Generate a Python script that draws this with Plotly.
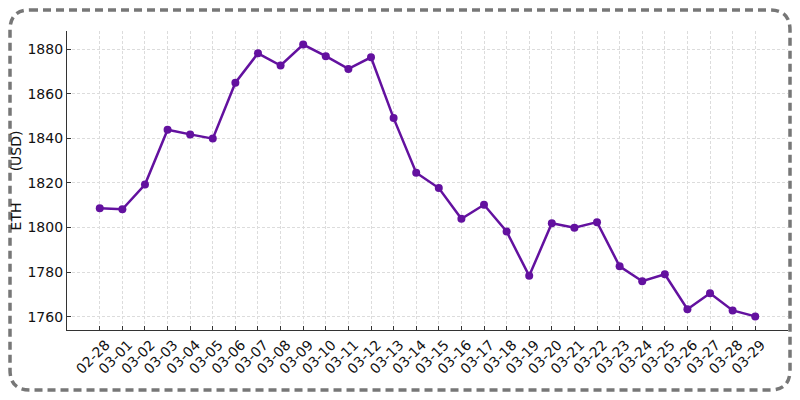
import plotly.graph_objects as go

dates = ["02-28", "03-01", "03-02", "03-03", "03-04", "03-05", "03-06", "03-07", "03-08", "03-09",
         "03-10", "03-11", "03-12", "03-13", "03-14", "03-15", "03-16", "03-17", "03-18", "03-19",
         "03-20", "03-21", "03-22", "03-23", "03-24", "03-25", "03-26", "03-27", "03-28", "03-29"]
prices = [1808.7, 1808.2, 1819.3, 1843.9, 1841.8, 1839.9, 1865.0, 1878.2, 1872.7, 1882.1,
          1876.9, 1871.2, 1876.4, 1849.1, 1824.6, 1817.7, 1803.9, 1810.2, 1798.2, 1778.3,
          1801.9, 1799.9, 1802.4, 1782.6, 1775.9, 1779.0, 1763.3, 1770.5, 1762.8, 1760.1]
y_ticks = [1760, 1780, 1800, 1820, 1840, 1860, 1880]

W, H = 800, 400
ML, MR, MT, MB = 67, 12, 31, 70
PW, PH = W - ML - MR, H - MT - MB


def px(x):
    return (x - ML) / PW


def py(y):
    return (H - MB - y) / PH


def rounded_rect(x0, y0, x1, y1, r):
    pts = [
        f"M {px(x0 + r)} {py(y0)}",
        f"L {px(x1 - r)} {py(y0)}",
        f"Q {px(x1)} {py(y0)} {px(x1)} {py(y0 + r)}",
        f"L {px(x1)} {py(y1 - r)}",
        f"Q {px(x1)} {py(y1)} {px(x1 - r)} {py(y1)}",
        f"L {px(x0 + r)} {py(y1)}",
        f"Q {px(x0)} {py(y1)} {px(x0)} {py(y1 - r)}",
        f"L {px(x0)} {py(y0 + r)}",
        f"Q {px(x0)} {py(y0)} {px(x0 + r)} {py(y0)}",
        "Z",
    ]
    return " ".join(pts)


n = len(dates)
ymin, ymax = min(prices), max(prices)
pad = (ymax - ymin) * 0.05

fig = go.Figure()
fig.add_trace(go.Scatter(
    x=list(range(n)), y=prices, mode="lines+markers",
    line=dict(color="#63119f", width=2.5),
    marker=dict(color="#63119f", size=8),
    showlegend=False,
))

fig.update_layout(
    width=W, height=H,
    margin=dict(l=ML, r=MR, t=MT, b=MB, autoexpand=False),
    paper_bgcolor="white", plot_bgcolor="white",
    font=dict(family="DejaVu Sans", size=14, color="#111"),
    xaxis=dict(
        automargin=False,
        range=[-0.05 * (n - 1), (n - 1) * 1.05],
        tickmode="array", tickvals=list(range(n)), ticktext=dates,
        tickangle=-45, ticks="inside", ticklen=4, tickcolor="#333",
        ticklabelshift=6,
        showline=True, linecolor="#333", linewidth=1.3,
        showgrid=True, gridcolor="#dcdcdc", griddash="3px,2px", gridwidth=1,
        zeroline=False, tickfont=dict(size=14),
    ),
    yaxis=dict(
        automargin=False,
        range=[ymin - pad, ymax + pad],
        tickmode="array", tickvals=y_ticks,
        ticks="inside", ticklen=4, tickcolor="#333",
        showline=True, linecolor="#333", linewidth=1.3,
        showgrid=True, gridcolor="#dcdcdc", griddash="3px,2px", gridwidth=1,
        zeroline=False, tickfont=dict(size=14),
        title=dict(text="ETH\u00a0\u00a0\u00a0\u00a0\u00a0\u00a0\u00a0(USD)", font=dict(size=14), standoff=2),
    ),
    shapes=[dict(
        type="path", xref="paper", yref="paper",
        path=rounded_rect(10, 10, 790, 390, 20),
        line=dict(color="#777777", width=3.5, dash="8px,5px"),
        fillcolor="rgba(0,0,0,0)",
    )],
)

fig.write_html("out.html", config={"displayModeBar": False},
               post_script="document.body.style.margin='0';document.body.style.padding='0';")
